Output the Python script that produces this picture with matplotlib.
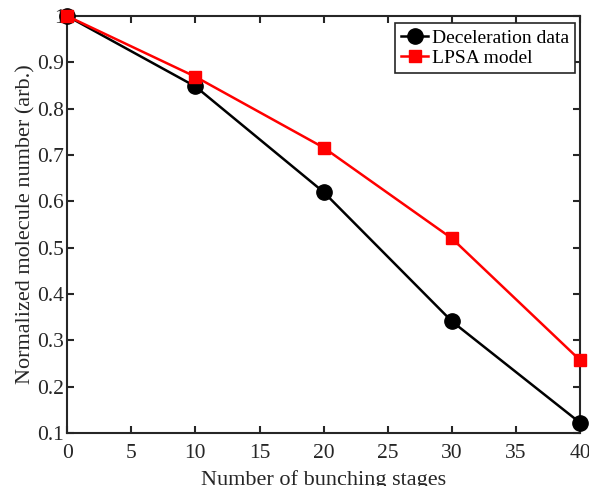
import matplotlib
matplotlib.use("Agg")
import matplotlib.pyplot as plt

plt.rcParams['font.family'] = ['Liberation Serif', 'DejaVu Serif']

stages = [0, 10, 20, 30, 40]
decel = [1.0, 0.848, 0.62, 0.341, 0.122]
lpsa = [1.0, 0.869, 0.716, 0.52, 0.257]

fig = plt.figure(figsize=(5.89, 4.86), dpi=100)
ax = fig.add_axes([0.114, 0.109, 0.871, 0.858])

ax.plot(stages, decel, '-o', color='black', lw=1.8, ms=11, label='Deceleration data', clip_on=False, zorder=3)
ax.plot(stages, lpsa, '-s', color='red', lw=1.8, ms=9, label='LPSA model', clip_on=False, zorder=4)

ax.set_xlim(0, 40)
ax.set_ylim(0.1, 1.0)
ax.set_xticks(range(0, 41, 5))
ax.set_yticks([0.1, 0.2, 0.3, 0.4, 0.5, 0.6, 0.7, 0.8, 0.9, 1.0])
ax.set_yticklabels(['0.1', '0.2', '0.3', '0.4', '0.5', '0.6', '0.7', '0.8', '0.9', '1'])

ax.tick_params(direction='in', top=True, right=True, labelsize=15.5, width=1.5, length=5,
               colors='#262626')
ax.tick_params(axis='x', pad=8)
ax.tick_params(axis='y', pad=2)
for s in ax.spines.values():
    s.set_linewidth(1.5)
    s.set_color('#262626')

ax.set_xlabel('Number of bunching stages', fontsize=16, color='#262626', labelpad=5)
ax.set_ylabel('Normalized molecule number (arb.)', fontsize=16, color='#262626', labelpad=1)

leg = ax.legend(loc='upper right', fontsize=14, handlelength=1.4, handletextpad=0.2,
                borderpad=0.3, labelspacing=0.15, fancybox=False, framealpha=1,
                bbox_to_anchor=(0.99, 0.983), borderaxespad=0)
leg.get_frame().set_edgecolor('#262626')
leg.get_frame().set_linewidth(1.2)

fig.savefig('out.png', dpi=100)
